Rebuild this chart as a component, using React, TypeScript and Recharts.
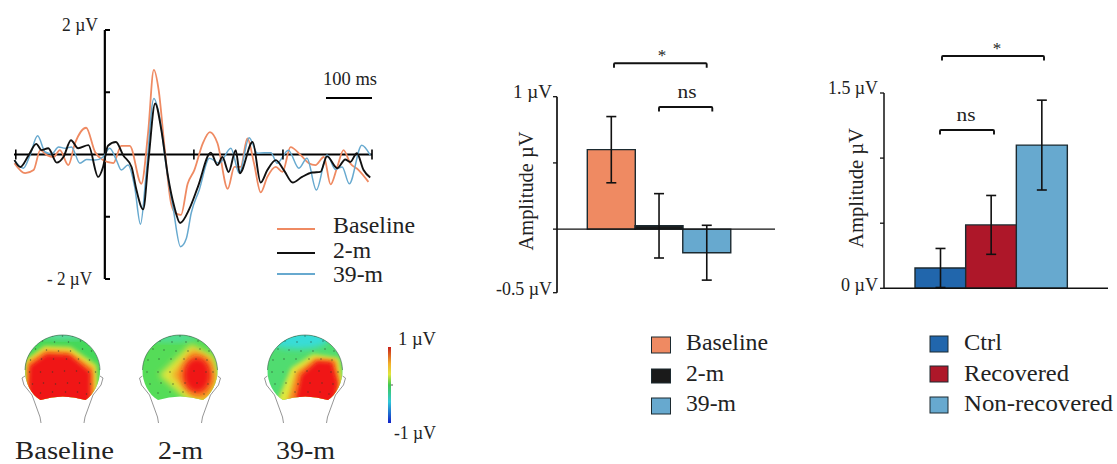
import React from "react";
import { LineChart, Line, BarChart, Bar, Cell, ErrorBar, XAxis, YAxis, ReferenceLine } from "recharts";

const SERIF = "'Liberation Serif', serif";

// ERP traces: time in ms, amplitude in µV
const baselineT = [-203,-179,-160,-145,-130,-115,-101,-82,-67,-42,-22,-4,19,37,56,82,97,110,121,134,149,160,171,186,201,220,236,253,276,291,305,320,335,350,365,384,399,417,440,458,473,492,507,522,536,551,570,592];
const baselineV = [-0.14,-0.3,-0.25,0.07,-0.01,-0.04,0.07,-0.17,0.18,0.43,0.04,-0.09,-0.14,0.14,0.14,-0.47,0.34,1.36,1.03,0.12,-0.79,-0.95,-0.97,-0.47,-0.25,0.18,0.36,0.18,-0.55,-0.2,-0.2,0.26,-0.14,-0.61,-0.36,-0.2,-0.28,0.12,-0.01,-0.14,-0.17,-0.04,-0.48,-0.2,0.07,-0.14,-0.25,-0.44];
const twoMT = [-203,-190,-171,-154,-142,-127,-108,-93,-76,-60,-37,-15,-4,7,25,41,60,71,86,98,113,127,142,156,169,190,209,238,253,264,278,294,303,332,350,365,384,402,422,443,466,484,499,522,540,551,566,581,596];
const twoMV = [-0.09,-0.2,-0.01,0.17,0.07,0.1,-0.13,-0.04,0.23,0.1,0.15,-0.36,-0.2,0.14,0.2,-0.01,-0.2,-0.57,-0.88,-0.09,0.82,0.39,-0.36,-0.84,-1.1,-0.87,-0.52,0.03,-0.17,-0.04,-0.28,0.07,-0.3,0.2,-0.45,-0.25,-0.09,-0.25,-0.45,-0.36,-0.29,-0.28,-0.03,-0.22,-0.08,-0.12,0.02,-0.25,-0.37];
const thirtyNineT = [-203,-183,-168,-151,-134,-119,-104,-89,-75,-56,-41,-22,-4,11,26,37,52,67,80,93,110,123,138,153,170,183,194,212,235,257,283,302,324,343,358,373,387,412,436,454,475,499,518,533,549,577,596];
const thirtyNineV = [-0.09,-0.22,-0.01,0.3,0.04,0.01,0.12,0.1,0.12,-0.14,-0.08,-0.09,-0.04,0.1,-0.09,-0.25,-0.17,-0.52,-1.12,-0.3,0.9,0.6,-0.2,-0.84,-1.48,-1.35,-0.94,-0.57,-0.06,-0.14,0.1,-0.3,0.27,0.02,0.03,0.03,-0.14,0.07,-0.22,-0.06,-0.57,-0.01,-0.24,-0.2,-0.47,0.15,-0.01];

const erpXTicks = [-200, 200, 400, 600];
const erpYTicks = [-2, -1, 1, 2];

// Time-course amplitude bars
const timeCats = ["Baseline", "2-m", "39-m"];
const timeVals = [0.6, 0.025, -0.178];
const timeErrs = [0.25, 0.243, 0.207];
const timeColors = ["#EF8A62", "#1a1a1a", "#67A9CF"];

// Group amplitude bars
const groupCats = ["Ctrl", "Recovered", "Non-recovered"];
const groupVals = [0.156, 0.487, 1.1];
const groupErrs = [0.15, 0.226, 0.345];
const groupColors = ["#2166AC", "#AE1729", "#67A9CF"];

const timeRows = timeCats.map((c, i) => ({ c, v: timeVals[i], e: timeErrs[i] }));
const groupRows = groupCats.map((c, i) => ({ c, v: groupVals[i], e: groupErrs[i] }));

type TP = { x: number; y: number; w?: number; size?: number; anchor?: string; rot?: number; children: any };
function T({ x, y, w, size = 23, anchor = "start", rot, children }: TP) {
  return (
    <text
      x={x} y={y} fontFamily={SERIF} fontSize={size} fill="#222" textAnchor={anchor as any}
      textLength={w} lengthAdjust={w ? "spacingAndGlyphs" : undefined}
      transform={rot ? `rotate(${rot} ${x} ${y})` : undefined}
    >{children}</text>
  );
}

const ERP_X0 = 105;
const ERP_Y0 = 154.5;
function erpYTick(p: any) {
  const v = p.payload.value;
  return (
    <g>
      <line x1={ERP_X0} x2={ERP_X0 + 5} y1={p.y} y2={p.y} stroke="#000" strokeWidth={2} />
      {v === 2 && <T x={98} y={p.y + 1} w={36} size={19} anchor="end">2 µV</T>}
      {v === -2 && <T x={92} y={p.y + 6} w={45} size={19} anchor="end">- 2 µV</T>}
    </g>
  );
}
function erpXTick(p: any) {
  return <line x1={p.x} x2={p.x} y1={ERP_Y0 - 5} y2={ERP_Y0 + 5} stroke="#000" strokeWidth={1.6} />;
}

function amplitudeTick(labels: Record<string, [string, number, number]>) {
  return (p: any) => {
    const l = labels[String(p.payload.value)];
    if (!l) return <g />;
    return <T x={p.x} y={p.y + l[2]} w={l[1]} size={19} anchor="end">{l[0]}</T>;
  };
}
const timeTick = amplitudeTick({ "1": ["1 µV", 39, 1.5], "-0.48": ["-0.5 µV", 56, 2.5] });
const groupTick = amplitudeTick({ "1.5": ["1.5 µV", 50, 0.5], "0": ["0 µV", 37, 3] });

function Bracket({ x1, x2, y, d = 4.5 }: { x1: number; x2: number; y: number; d?: number }) {
  return <path d={`M${x1} ${y + d}V${y + 1}Q${x1} ${y} ${x1 + 1} ${y}H${x2 - 1}Q${x2} ${y} ${x2} ${y + 1}V${y + d}`} fill="none" stroke="#111" strokeWidth={1.9} />;
}

const HEAD = "M-22 400C-31 395 -38 382 -37.5 370C-37 350 -20 335 0 335C20 335 37 350 37.5 370C38 382 31 395 23 400Q0 393 -22 400Z";
const dots: [number, number][] = [
  [-10,336],[0,336],[10,336],[-20,341],[-8,342],[6,342],[18,341],[-27,349],[-16,350],[-4,351],[8,351],[20,349],[29,351],
  [-32,360],[-21,359],[-9,359],[4,359],[16,359],[27,360],[-33,372],[-22,372],[-10,372],[2,371],[14,371],[26,372],[33,372],
  [-30,384],[-19,383],[-7,384],[5,383],[17,383],[28,384],[-22,393],[-10,392],[3,392],[15,392],[24,394],
];
type Layer = { c: string; pts?: number[][]; e?: number[]; b: number };
function Topo({ id, cx, base, layers }: { id: string; cx: number; base: string; layers: Layer[] }) {
  return (
    <g transform={`translate(${cx} 0)`}>
      <clipPath id={id}><path d={HEAD} /></clipPath>
      <path d="M-37.5 376L-40.5 378L-38.5 385L-30.5 395L-22.5 417L-21.5 423M37.5 376L40.5 378L38.5 385L30.5 395L22.5 417L21.5 423" fill="none" stroke="#8a8a8a" strokeWidth={0.9} />
      <g clipPath={`url(#${id})`}>
        <rect x={-45} y={330} width={90} height={75} fill={base} />
        {layers.map((l, i) =>
          l.e ? (
            <ellipse key={i} cx={l.e[0]} cy={l.e[1]} rx={l.e[2]} ry={l.e[3]} fill={l.c} filter={`url(#b${l.b})`} />
          ) : (
            <polygon key={i} points={l.pts!.map((q) => q.join(",")).join(" ")} fill={l.c} filter={`url(#b${l.b})`} />
          )
        )}
        {dots.map((d, i) => <circle key={i} cx={d[0]} cy={d[1]} r={0.75} fill="#2a3a2a" opacity={0.65} />)}
      </g>
      <path d="M-37.5 370C-37 350 -20 335 0 335C20 335 37 350 37.5 370" fill="none" stroke="#3a5a4a" strokeWidth={0.6} />
    </g>
  );
}
const topoLayersA: Layer[] = [
  { c: "#62dcb0", e: [2, 335, 26, 4], b: 3 },
  { c: "#e6e23c", pts: [[-38,404],[-37,360],[-18,346],[8,347],[34,365],[36,404]], b: 2 },
  { c: "#f78a22", pts: [[-36,404],[-35,362],[-17,350],[6,351],[31,368],[32,404]], b: 2 },
  { c: "#f01414", pts: [[-35,408],[-33,366],[-16,354],[7,355],[28,372],[28,408]], b: 2 },
];
const topoLayersB: Layer[] = [
  { c: "#50dca0", e: [-8, 338, 26, 4], b: 3 },
  { c: "#dfe63e", pts: [[-21,375],[11,344],[34,356],[40,380],[30,404],[11,404]], b: 3 },
  { c: "#f89a22", pts: [[-8,375],[13,349],[32,360],[36,380],[28,400],[13,398]], b: 3 },
  { c: "#f01414", e: [17, 375, 14, 18], b: 3 },
];
const topoLayersC: Layer[] = [
  { c: "#38dcd8", e: [-7, 339, 31, 10], b: 3 },
  { c: "#dfe63e", pts: [[-29,404],[-14,368],[8,354],[34,358],[39,387],[30,404]], b: 2 },
  { c: "#f78a22", pts: [[-18,404],[-9,372],[10,358],[31,360],[35,385],[29,404]], b: 2 },
  { c: "#f01414", pts: [[-11,408],[-4,375],[12,361],[27,362],[33,383],[28,408]], b: 2 },
];

function Box({ left, top, width, height, children }: any) {
  return <div style={{ position: "absolute", left, top, width, height }}>{children}</div>;
}

export default function App() {
  return (
    <div style={{ position: "absolute", left: 0, top: 0, width: 1117, height: 464, background: "#fff", overflow: "hidden" }}>
      <Box left={0} top={0} width={400} height={300}>
        <LineChart width={400} height={300} margin={{ left: 13, right: 28, top: 30, bottom: 20 }}>
          <XAxis type="number" dataKey="t" domain={[-204, 600]} ticks={erpXTicks} axisLine={false} tickLine={false} tick={erpXTick} height={1} interval={0} />
          <YAxis type="number" domain={[-2, 2]} ticks={erpYTicks} axisLine={false} tickLine={false} tick={erpYTick} width={1} interval={0} />
          <ReferenceLine x={0} stroke="#000" strokeWidth={2.2} />
          <ReferenceLine y={0} stroke="#000" strokeWidth={1.8} />
          <Line data={baselineT.map((t, i) => ({ t, v: baselineV[i] }))} dataKey="v" name="Baseline" type="monotone" stroke="#EF8A62" strokeWidth={1.8} dot={false} isAnimationActive={false} />
          <Line data={thirtyNineT.map((t, i) => ({ t, v: thirtyNineV[i] }))} dataKey="v" name="39-m" type="monotone" stroke="#67A9CF" strokeWidth={1.5} dot={false} isAnimationActive={false} />
          <Line data={twoMT.map((t, i) => ({ t, v: twoMV[i] }))} dataKey="v" name="2-m" type="monotone" stroke="#111" strokeWidth={1.9} dot={false} isAnimationActive={false} />
        </LineChart>
      </Box>

      <Box left={480} top={50} width={320} height={260}>
        <BarChart width={320} height={260} data={timeRows} barCategoryGap={0} margin={{ left: 0, right: 25, top: 46.7, bottom: 17.3 }}>
          <XAxis dataKey="c" hide padding={{ left: 30.3, right: 44.5 }} />
          <YAxis type="number" domain={[-0.48, 1]} ticks={[-0.48, 0, 0.5, 1]} width={77} tickSize={4} tickMargin={1} interval={0} axisLine={{ stroke: "#111", strokeWidth: 1.7 }} tickLine={{ stroke: "#111", strokeWidth: 1.3 }} tick={timeTick} />
          <Bar dataKey="v" stroke="#1c2a30" strokeWidth={1.4} isAnimationActive={false}>
            {timeRows.map((_, i) => <Cell key={i} fill={timeColors[i]} />)}
            <ErrorBar dataKey="e" width={5} stroke="#111" strokeWidth={1.6} />
          </Bar>
          <ReferenceLine y={0} stroke="#111" strokeWidth={1.3} />
        </BarChart>
      </Box>

      <Box left={800} top={50} width={317} height={255}>
        <BarChart width={317} height={255} data={groupRows} barCategoryGap={0} margin={{ left: 0, right: 9, top: 43, bottom: 16.7 }}>
          <XAxis dataKey="c" hide padding={{ left: 31, right: 41 }} />
          <YAxis type="number" domain={[0, 1.5]} ticks={[0, 0.5, 1, 1.5]} width={84} tickSize={4} tickMargin={2} interval={0} axisLine={{ stroke: "#111", strokeWidth: 1.5 }} tickLine={{ stroke: "#111", strokeWidth: 1.3 }} tick={groupTick} />
          <Bar dataKey="v" stroke="#1c2a30" strokeWidth={1.4} isAnimationActive={false}>
            {groupRows.map((_, i) => <Cell key={i} fill={groupColors[i]} />)}
            <ErrorBar dataKey="e" width={5} stroke="#111" strokeWidth={1.6} />
          </Bar>
          <ReferenceLine y={0} stroke="#111" strokeWidth={1.5} />
        </BarChart>
      </Box>

      <svg width={1117} height={464} style={{ position: "absolute", left: 0, top: 0, pointerEvents: "none" }}>
        <defs>
          <filter id="b2" x="-30%" y="-30%" width="160%" height="160%"><feGaussianBlur stdDeviation={2} /></filter>
          <filter id="b3" x="-30%" y="-30%" width="160%" height="160%"><feGaussianBlur stdDeviation={3} /></filter>
          <linearGradient id="jet" x1="0" y1="0" x2="0" y2="1">
            <stop offset="0" stopColor="#c8201a" />
            <stop offset="0.22" stopColor="#f2b02a" />
            <stop offset="0.36" stopColor="#dfe63e" />
            <stop offset="0.5" stopColor="#40c850" />
            <stop offset="0.72" stopColor="#30c8d8" />
            <stop offset="1" stopColor="#1020c8" />
          </linearGradient>
        </defs>

        {/* ERP annotations */}
        <T x={350} y={85} w={54} size={19} anchor="middle">100 ms</T>
        <line x1={326} x2={372} y1={98} y2={98} stroke="#000" strokeWidth={2} />
        <line x1={277} x2={315} y1={229} y2={229} stroke="#EF8A62" strokeWidth={1.8} />
        <line x1={277} x2={315} y1={253} y2={253} stroke="#111" strokeWidth={2} />
        <line x1={277} x2={315} y1={274} y2={274} stroke="#67A9CF" strokeWidth={1.8} />
        <T x={333} y={233} w={82}>Baseline</T>
        <T x={333} y={258} w={38}>2-m</T>
        <T x={333} y={282} w={50}>39-m</T>

        {/* Topographic maps */}
        <Topo id="h1" cx={62.5} base="#45d85a" layers={topoLayersA} />
        <Topo id="h2" cx={180} base="#55dc58" layers={topoLayersB} />
        <Topo id="h3" cx={305} base="#50dc70" layers={topoLayersC} />
        <T x={15} y={458.5} w={99} size={25}>Baseline</T>
        <T x={158} y={458.5} w={45} size={25}>2-m</T>
        <T x={276} y={458.5} w={59} size={25}>39-m</T>
        <rect x={388} y={347} width={3} height={76} fill="url(#jet)" />
        <line x1={391} x2={393} y1={385} y2={385} stroke="#333" strokeWidth={0.8} />
        <T x={398} y={345} w={38} size={19}>1 µV</T>
        <T x={394} y={439} w={42} size={19}>-1 µV</T>

        {/* Middle panel notes */}
        <T x={533} y={191} w={119} size={20} anchor="middle" rot={-90}>Amplitude µV</T>
        <Bracket x1={614} x2={706.7} y={63.3} />
        <T x={662} y={61} size={17} anchor="middle">*</T>
        <Bracket x1={659} x2={712.3} y={107} />
        <T x={687} y={98} w={19} size={19} anchor="middle">ns</T>
        {timeCats.map((c, i) => (
          <g key={c}>
            <rect x={651.5} y={[337, 369, 398][i]} width={19} height={[16, 14, 16][i]} fill={timeColors[i]} stroke="#1c2a30" strokeWidth={1} />
            <T x={686} y={[350, 381, 411][i]} w={[82, 38, 50][i]}>{c}</T>
          </g>
        ))}

        {/* Right panel notes */}
        <T x={863} y={188} w={120} size={20} anchor="middle" rot={-90}>Amplitude µV</T>
        <Bracket x1={942} x2={1044} y={56} />
        <T x={997} y={54} size={17} anchor="middle">*</T>
        <Bracket x1={940} x2={994} y={130} />
        <T x={966} y={121} w={19} size={19} anchor="middle">ns</T>
        {groupCats.map((c, i) => (
          <g key={c}>
            <rect x={930} y={[336, 366, 397][i]} width={18} height={16} fill={groupColors[i]} stroke="#1c2a30" strokeWidth={1} />
            <T x={964} y={[350, 381, 411][i]} w={[38, 105, 149][i]}>{c}</T>
          </g>
        ))}
      </svg>
    </div>
  );
}
